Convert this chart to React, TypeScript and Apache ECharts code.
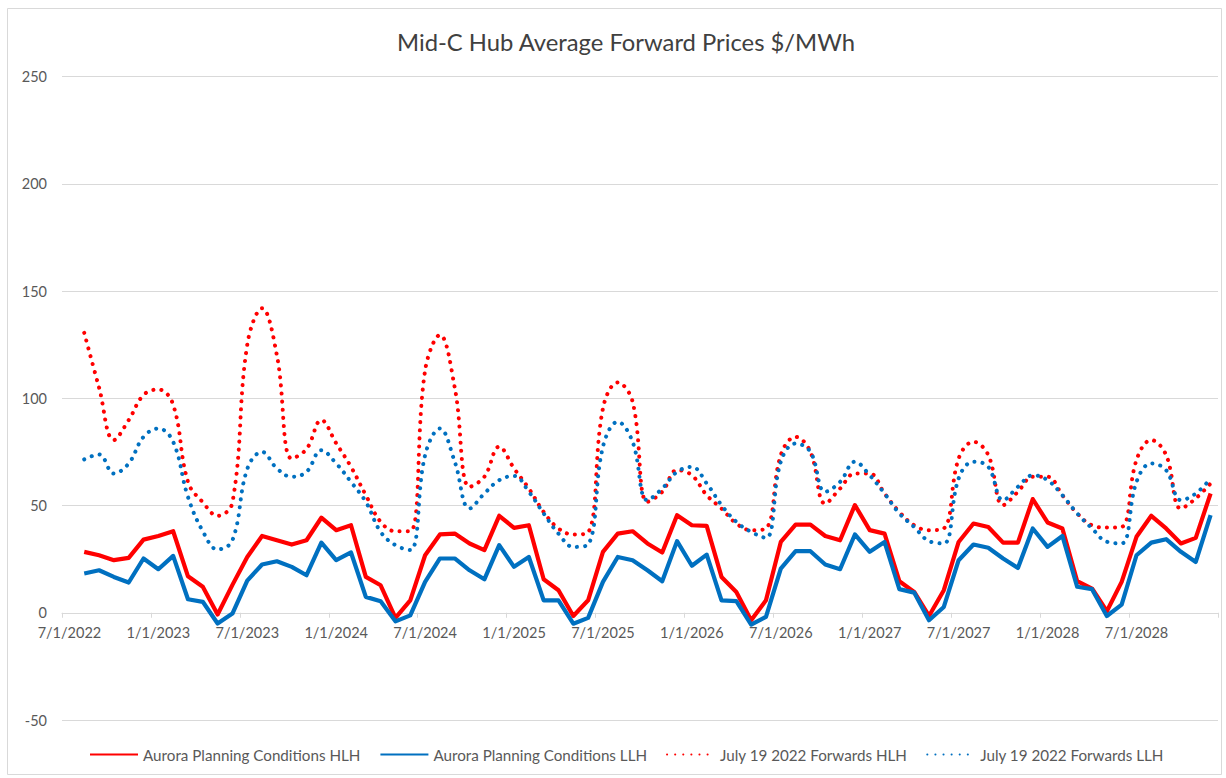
import React, { useEffect, useRef } from "react";
import * as echarts from "echarts";

const months: string[] = [
  "7/1/2022", "8/1/2022", "9/1/2022", "10/1/2022", "11/1/2022", "12/1/2022",
  "1/1/2023", "2/1/2023", "3/1/2023", "4/1/2023", "5/1/2023", "6/1/2023",
  "7/1/2023", "8/1/2023", "9/1/2023", "10/1/2023", "11/1/2023", "12/1/2023",
  "1/1/2024", "2/1/2024", "3/1/2024", "4/1/2024", "5/1/2024", "6/1/2024",
  "7/1/2024", "8/1/2024", "9/1/2024", "10/1/2024", "11/1/2024", "12/1/2024",
  "1/1/2025", "2/1/2025", "3/1/2025", "4/1/2025", "5/1/2025", "6/1/2025",
  "7/1/2025", "8/1/2025", "9/1/2025", "10/1/2025", "11/1/2025", "12/1/2025",
  "1/1/2026", "2/1/2026", "3/1/2026", "4/1/2026", "5/1/2026", "6/1/2026",
  "7/1/2026", "8/1/2026", "9/1/2026", "10/1/2026", "11/1/2026", "12/1/2026",
  "1/1/2027", "2/1/2027", "3/1/2027", "4/1/2027", "5/1/2027", "6/1/2027",
  "7/1/2027", "8/1/2027", "9/1/2027", "10/1/2027", "11/1/2027", "12/1/2027",
  "1/1/2028", "2/1/2028", "3/1/2028", "4/1/2028", "5/1/2028", "6/1/2028",
  "7/1/2028", "8/1/2028", "9/1/2028", "10/1/2028", "11/1/2028", "12/1/2028",
];

const auroraHLH: (number | null)[] = [
  null, 28.4, 26.8, 24.5, 25.6, 34.1, 35.8, 38.0, 17.0, 12.1, -0.8, 13.0,
  26.0, 35.8, 33.8, 31.8, 33.8, 44.3, 38.5, 40.8, 16.7, 12.8, -2.4, 5.8,
  26.8, 36.5, 36.9, 32.3, 29.2, 45.2, 39.6, 40.8, 15.6, 10.5, -1.5, 5.8,
  28.4, 36.9, 38.0, 32.3, 28.1, 45.5, 40.8, 40.5, 16.7, 9.7, -3.5, 5.8,
  33.0, 41.1, 41.1, 35.8, 33.8, 50.2, 38.5, 36.9, 14.7, 9.7, -1.5, 10.5,
  33.0, 41.6, 40.0, 32.7, 32.7, 53.0, 42.1, 39.3, 14.7, 11.3, 0.7, 14.4,
  35.4, 45.2, 39.3, 32.3, 34.9, 55.6,
];

const auroraLLH: (number | null)[] = [
  null, 18.3, 19.8, 16.7, 14.1, 25.3, 20.3, 26.5, 6.3, 5.1, -5.0, -0.4,
  15.0, 22.5, 24.0, 21.4, 17.5, 32.7, 24.5, 28.1, 7.4, 5.4, -4.0, -1.2,
  14.4, 25.3, 25.3, 19.8, 15.6, 31.5, 21.4, 26.0, 5.8, 5.8, -5.1, -2.4,
  14.4, 26.0, 24.5, 19.8, 14.7, 33.4, 21.9, 27.1, 5.8, 5.4, -5.5, -1.9,
  20.6, 28.7, 28.7, 22.5, 20.3, 36.5, 28.4, 33.0, 11.0, 9.4, -3.5, 2.7,
  24.5, 31.8, 30.3, 25.3, 20.9, 39.3, 30.7, 35.8, 12.1, 11.0, -1.5, 3.8,
  26.8, 32.7, 34.3, 28.4, 23.7, 45.5,
];

const forwardsHLH: (number | null)[] = [
  null, 130.5, 105.0, 80.5, 89.8, 101.5, 104.1, 97.0, 61.0, 51.5, 45.2, 51.4,
  125.0, 142.0, 120.0, 71.9, 76.3, 89.8, 79.0, 68.0, 54.8, 42.4, 38.0, 38.0,
  113.0, 129.5, 105.0, 58.7, 63.4, 77.4, 67.3, 57.9, 47.0, 39.3, 36.5, 37.4,
  95.3, 107.4, 98.4, 51.7, 56.4, 66.5, 64.1, 54.8, 48.6, 41.6, 38.5, 39.3,
  73.5, 82.0, 75.0, 50.9, 57.9, 64.9, 64.9, 55.6, 47.0, 40.8, 38.5, 39.3,
  71.9, 79.7, 73.5, 50.2, 56.4, 63.4, 63.4, 54.8, 46.3, 40.8, 39.7, 40.0,
  71.2, 80.5, 73.5, 48.6, 53.3, 60.3,
];

const forwardsLLH: (number | null)[] = [
  null, 71.5, 73.8, 64.9, 69.6, 82.0, 85.9, 79.7, 54.0, 38.0, 29.5, 33.8,
  67.0, 75.0, 67.3, 63.4, 65.7, 75.8, 69.6, 61.0, 51.7, 37.7, 31.5, 29.2,
  73.5, 85.9, 70.4, 48.6, 55.6, 61.8, 63.8, 56.4, 46.3, 36.9, 30.7, 31.8,
  77.4, 89.0, 79.7, 52.5, 57.9, 65.7, 68.0, 60.3, 50.2, 42.4, 37.7, 34.9,
  70.4, 78.9, 75.0, 56.4, 61.0, 70.4, 64.1, 55.6, 46.3, 40.0, 33.4, 32.3,
  62.6, 70.4, 68.0, 52.5, 58.7, 64.1, 61.8, 54.8, 46.3, 39.3, 33.1, 32.3,
  61.0, 69.6, 66.5, 52.5, 55.6, 62.6,
];

const seriesNames: string[] = [
  "Aurora Planning Conditions HLH",
  "Aurora Planning Conditions LLH",
  "July 19 2022 Forwards HLH",
  "July 19 2022 Forwards LLH",
];

const titleText = "Mid-C Hub Average Forward Prices $/MWh";

const RED = "#FF0000";
const BLUE = "#0070C0";
const FONT = "Lato, 'Open Sans', sans-serif";

export default function App() {
  const ref = useRef<HTMLDivElement | null>(null);

  useEffect(() => {
    if (!ref.current) return;
    const chart = echarts.init(ref.current, undefined, { renderer: "svg" });
    const dotted = { width: 4, type: [0.1, 8] as number[], cap: "round" as const };
    chart.setOption({
      animation: false,
      backgroundColor: "#FFFFFF",
      textStyle: { fontFamily: FONT },
      graphic: [
        {
          type: "rect",
          shape: { x: 7.5, y: 8.5, width: 1214, height: 766 },
          style: { fill: "none", stroke: "#D9D9D9", lineWidth: 1 },
          silent: true,
        },
        {
          type: "text",
          x: 626,
          y: 42,
          style: {
            text: titleText,
            fontFamily: FONT,
            fontSize: 23.8,
            fill: "#404040",
            align: "center",
            verticalAlign: "middle",
          },
          silent: true,
        },
      ],
      legend: {
        data: seriesNames,
        left: 84,
        top: 742,
        itemWidth: 48,
        itemHeight: 14,
        itemGap: 19,
        itemStyle: { opacity: 0 },
        textStyle: { fontFamily: FONT, fontSize: 15.2, color: "#595959" },
      },
      grid: { left: 62, right: 8, top: 76.5, bottom: 58, containLabel: false },
      xAxis: {
        type: "category",
        data: months,
        boundaryGap: true,
        position: "bottom",
        offset: -107.25,
        axisLine: { onZero: false, lineStyle: { color: "#D9D9D9", width: 1 } },
        axisTick: { show: true, interval: 5, length: 5, lineStyle: { color: "#D9D9D9" } },
        axisLabel: { interval: 5, margin: 12, fontSize: 14.5, color: "#595959", fontFamily: FONT },
        splitLine: { show: false },
      },
      yAxis: {
        type: "value",
        min: -50,
        max: 250,
        interval: 50,
        axisLine: { show: false },
        axisTick: { show: false },
        axisLabel: { margin: 15, fontSize: 14.5, color: "#595959", fontFamily: FONT },
        splitLine: { lineStyle: { color: "#D9D9D9", width: 1 } },
      },
      series: [
        {
          name: seriesNames[0],
          type: "line",
          data: auroraHLH,
          symbol: "none",
          lineStyle: { color: RED, width: 4.2, join: "round" },
          itemStyle: { color: RED },
        },
        {
          name: seriesNames[1],
          type: "line",
          data: auroraLLH,
          symbol: "none",
          lineStyle: { color: BLUE, width: 4.2, join: "round" },
          itemStyle: { color: BLUE },
        },
        {
          name: seriesNames[2],
          type: "line",
          data: forwardsHLH,
          symbol: "none",
          smooth: 0.4,
          lineStyle: { color: RED, ...dotted },
          itemStyle: { color: RED },
        },
        {
          name: seriesNames[3],
          type: "line",
          data: forwardsLLH,
          symbol: "none",
          smooth: 0.4,
          lineStyle: { color: BLUE, ...dotted },
          itemStyle: { color: BLUE },
        },
      ],
    });
    return () => chart.dispose();
  }, []);

  return (
    <div
      ref={ref}
      style={{ position: "fixed", left: 0, top: 0, width: 1226, height: 778, background: "#fff" }}
    />
  );
}
